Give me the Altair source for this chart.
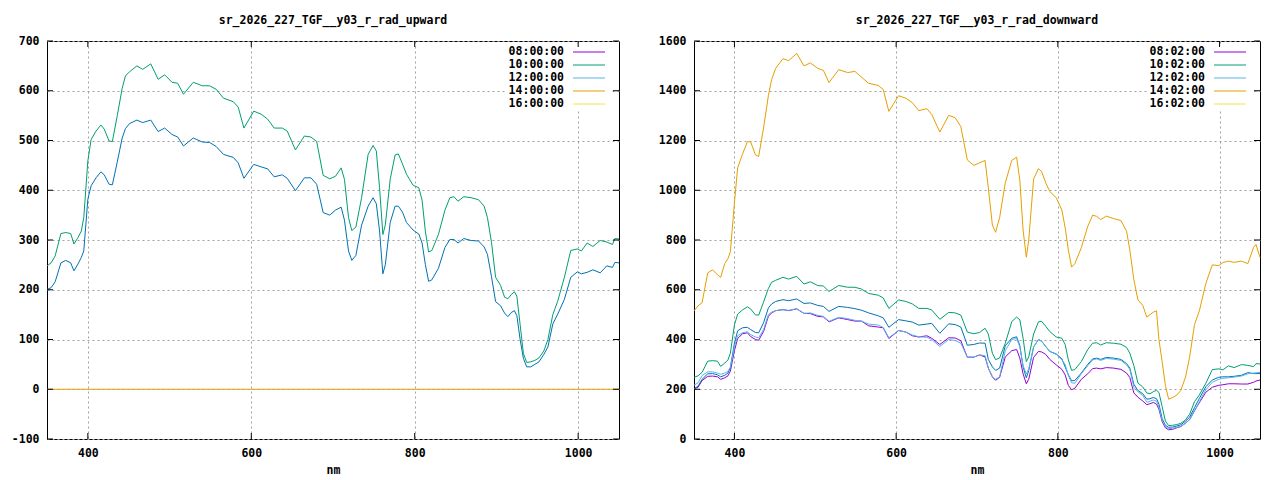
import altair as alt
import pandas as pd

WL = [
    350, 355, 360, 367, 373, 379, 383, 388, 392, 395,
    400, 404, 410, 416, 420, 426, 430, 436, 442, 446,
    451, 460, 467, 477, 486, 494, 503, 510, 517, 529,
    540, 549, 557, 566, 578, 584, 591, 603, 612, 620,
    628, 638, 644, 654, 665, 673, 680, 688, 696, 703,
    710, 714, 719, 723, 728, 735, 743, 749, 753, 757,
    761, 764, 770, 776, 780, 785, 790, 798, 805, 809,
    813, 817, 821, 829, 837, 843, 848, 853, 860, 869,
    878, 885, 889, 894, 899, 905, 910, 914, 918, 922,
    925, 929, 933, 937, 942, 947, 952, 958, 963, 969,
    975, 983, 991, 999, 1004, 1011, 1018, 1027, 1035, 1042,
    1045, 1050]

UP_10 = [
    248, 254, 268, 313, 315, 313, 292, 305, 318, 345,
    459, 502, 519, 531, 523, 499, 498, 550, 605, 630,
    638, 650, 643, 654, 623, 632, 617, 615, 593, 617,
    610, 610, 603, 585, 578, 567, 525, 559, 553, 543,
    525, 525, 519, 481, 509, 507, 498, 430, 423, 428,
    445, 422, 345, 319, 326, 385, 472, 490, 479, 405,
    311, 330, 422, 471, 473, 453, 432, 410, 405, 380,
    318, 276, 279, 311, 360, 385, 387, 378, 387, 385,
    381, 368, 345, 295, 225, 209, 185, 182, 190, 196,
    187, 130, 72, 54, 55, 58, 63, 77, 100, 150,
    177, 224, 279, 282, 278, 294, 287, 299, 296, 291,
    303, 302]

UP_12 = [
    201, 204, 216, 254, 259, 254, 238, 252, 265, 278,
    382, 409, 425, 437, 431, 412, 411, 457, 505, 524,
    534, 541, 536, 541, 518, 525, 512, 507, 489, 505,
    497, 496, 488, 472, 466, 455, 424, 452, 447, 443,
    427, 431, 424, 399, 425, 425, 412, 355, 350, 360,
    366, 340, 278, 259, 269, 330, 368, 385, 373, 318,
    232, 250, 335, 368, 368, 356, 335, 320, 312, 294,
    251, 217, 220, 243, 285, 301, 301, 294, 303, 299,
    298, 286, 271, 226, 176, 168, 153, 146, 154, 158,
    148, 100, 62, 45, 45, 50, 55, 70, 85, 131,
    151, 180, 225, 236, 232, 235, 240, 234, 248, 245,
    255, 254]

UP_16_WL = [350, 1050]
UP_16 = [0, 0]

DOWN_08 = [
    202, 208, 235, 252, 253, 250, 240, 246, 254, 273,
    355, 404, 423, 427, 412, 400, 397, 432, 493, 507,
    516, 520, 516, 523, 505, 504, 493, 491, 471, 487,
    480, 474, 474, 455, 450, 447, 404, 436, 430, 415,
    410, 415, 405, 380, 407, 406, 395, 329, 329, 338,
    330, 285, 250, 236, 248, 330, 355, 360, 325, 262,
    222, 240, 328, 352, 350, 340, 320, 298, 280, 258,
    215, 198, 204, 240, 262, 283, 285, 282, 287, 285,
    280, 265, 247, 185, 168, 153, 138, 142, 147, 140,
    120, 70, 45, 37, 39, 45, 50, 64, 78, 114,
    146, 188, 208, 216, 218, 222, 222, 221, 221, 228,
    233, 237]

DOWN_10 = list(UP_10)

DOWN_12 = [
    202, 212, 240, 262, 263, 258, 250, 256, 265, 287,
    385, 435, 447, 449, 440, 428, 427, 467, 527, 543,
    553, 560, 556, 563, 545, 547, 537, 533, 513, 533,
    529, 524, 518, 507, 495, 487, 449, 480, 475, 470,
    458, 462, 465, 425, 463, 460, 450, 377, 380, 386,
    385, 320, 290, 276, 285, 375, 405, 411, 375, 290,
    246, 275, 370, 400, 393, 372, 352, 342, 322, 290,
    258, 234, 235, 265, 300, 322, 325, 320, 328, 325,
    320, 303, 285, 220, 195, 182, 160, 162, 167, 162,
    140, 82, 55, 47, 48, 52, 57, 72, 88, 126,
    163, 210, 237, 248, 250, 250, 252, 256, 267, 263,
    263, 263]

DOWN_14 = [
    216, 226, 255, 270, 270, 265, 260, 265, 272, 289,
    370, 415, 427, 431, 420, 410, 407, 440, 500, 510,
    516, 520, 517, 524, 505, 507, 497, 493, 473, 489,
    484, 477, 474, 462, 458, 448, 407, 436, 430, 418,
    411, 409, 400, 372, 400, 396, 385, 329, 329, 338,
    335, 285, 250, 240, 250, 355, 400, 404, 370, 295,
    262, 282, 370, 400, 393, 372, 352, 340, 318, 300,
    255, 226, 224, 262, 295, 318, 322, 316, 324, 321,
    316, 298, 280, 208, 190, 175, 148, 152, 157, 152,
    128, 75, 50, 42, 43, 47, 51, 64, 78, 112,
    150, 198, 228, 240, 244, 246, 249, 253, 262, 265,
    266, 268]

DOWN_16 = [
    515, 535, 548, 668, 680, 660, 650, 705, 725, 753,
    950, 1090, 1145, 1195, 1195, 1142, 1136, 1250, 1380, 1445,
    1490, 1529, 1521, 1550, 1500, 1512, 1490, 1482, 1433, 1485,
    1473, 1478, 1455, 1430, 1421, 1405, 1317, 1380, 1370, 1352,
    1320, 1328, 1305, 1234, 1301, 1292, 1256, 1122, 1100, 1110,
    1120, 1010, 860, 831, 890, 1030, 1120, 1133, 1040, 840,
    731, 800, 1045, 1087, 1075, 1030, 995, 970, 920, 850,
    760, 691, 705, 769, 855, 900, 895, 882, 896, 886,
    878, 835, 760, 640, 560, 537, 490, 500, 510, 515,
    400, 310, 215, 160, 167, 176, 195, 250, 330, 460,
    515, 625, 700, 697, 709, 715, 710, 715, 705, 770,
    782, 730]

UP_KEYS = ["08:00:00", "10:00:00", "12:00:00", "14:00:00", "16:00:00"]
DOWN_KEYS = ["08:02:00", "10:02:00", "12:02:00", "14:02:00", "16:02:00"]
KEY_COLORS = ["#9400d3", "#009e73", "#56b4e9", "#e69f00", "#f0e442"]
LINE_COLORS = {"08": "#9400d3", "10": "#009e73", "12": "#0072b2",
               "14": "#56b4e9", "16": "#e69f00"}

X_TICKS = [400, 600, 800, 1000]
UP_Y_TICKS = [-100, 0, 100, 200, 300, 400, 500, 600, 700]
DOWN_Y_TICKS = [0, 200, 400, 600, 800, 1000, 1200, 1400, 1600]

FONT = "DejaVu Sans Mono"
FS = 11.5


def panel(title, series, ydom, yticks, keys, W, H):
    xs = alt.Scale(domain=[350, 1050], nice=False, zero=False)
    ys = alt.Scale(domain=ydom, nice=False, zero=False)
    xax = alt.Axis(values=X_TICKS, grid=True, ticks=False, domain=False,
                   labelPadding=8, title="nm", titlePadding=6,
                   labelExpr="'' + datum.value")
    yax = alt.Axis(values=yticks, grid=True, ticks=False, domain=False,
                   labelPadding=8, title=None, minExtent=38, maxExtent=38,
                   labelExpr="'' + datum.value")
    layers = []
    for wl, vals, key in series:
        df = pd.DataFrame({"wl": wl, "v": vals})
        layers.append(
            alt.Chart(df).mark_line(color=LINE_COLORS[key], strokeWidth=1)
            .encode(x=alt.X("wl:Q", scale=xs, axis=xax),
                    y=alt.Y("v:Q", scale=ys, axis=yax))
        )
    # opaque key box
    one = pd.DataFrame({"a": [0]})
    layers.append(
        alt.Chart(one).mark_rect(color="white").encode(
            x=alt.value(W - 113), x2=alt.value(W - 7),
            y=alt.value(4), y2=alt.value(70))
    )
    for i, lab in enumerate(keys):
        kdf = pd.DataFrame({"label": [lab]})
        layers.append(
            alt.Chart(kdf).mark_text(align="right", baseline="middle", font=FONT,
                                     fontWeight="bold", fontSize=FS, color="black")
            .encode(text="label:N", x=alt.value(W - 55), y=alt.value(11 + 13 * i))
        )
        layers.append(
            alt.Chart(kdf).mark_rule(color=KEY_COLORS[i], strokeWidth=1).encode(
                x=alt.value(W - 46), x2=alt.value(W - 14), y=alt.value(11 + 13 * i))
        )
    # inward ticks (gnuplot style, mirrored)
    xt = pd.DataFrame({"wl": X_TICKS})
    yt = pd.DataFrame({"v": yticks})
    layers.append(alt.Chart(xt).mark_rule(color="black").encode(
        x=alt.X("wl:Q", scale=xs, axis=xax), y=alt.value(H - 6), y2=alt.value(H)))
    layers.append(alt.Chart(xt).mark_rule(color="black").encode(
        x=alt.X("wl:Q", scale=xs, axis=xax), y=alt.value(0), y2=alt.value(6)))
    layers.append(alt.Chart(yt).mark_rule(color="black").encode(
        y=alt.Y("v:Q", scale=ys, axis=yax), x=alt.value(0), x2=alt.value(6)))
    layers.append(alt.Chart(yt).mark_rule(color="black").encode(
        y=alt.Y("v:Q", scale=ys, axis=yax), x=alt.value(W - 6), x2=alt.value(W)))
    return alt.layer(*layers).properties(
        width=W, height=H,
        title=alt.TitleParams(title, font=FONT, fontWeight="bold", fontSize=FS,
                              color="black", offset=9, anchor="middle"))


left = panel("sr_2026_227_TGF__y03_r_rad_upward",
             [(WL, UP_10, "10"), (WL, UP_12, "12"), (UP_16_WL, UP_16, "16")],
             [-100, 700], UP_Y_TICKS, UP_KEYS, 572, 398)
right = panel("sr_2026_227_TGF__y03_r_rad_downward",
              [(WL, DOWN_08, "08"), (WL, DOWN_10, "10"), (WL, DOWN_12, "12"),
               (WL, DOWN_14, "14"), (WL, DOWN_16, "16")],
              [0, 1600], DOWN_Y_TICKS, DOWN_KEYS, 566, 398)

chart = alt.hconcat(left, right, spacing=33).configure_view(
    stroke="black", strokeWidth=1
).configure_axis(
    labelFont=FONT, labelFontWeight="bold", labelFontSize=FS, labelColor="black",
    titleFont=FONT, titleFontWeight="bold", titleFontSize=FS, titleColor="black",
    gridColor="#a0a0a0", gridDash=[2, 3], gridWidth=1, gridOpacity=1
).properties(padding={"left": 0, "top": 6, "right": 0, "bottom": 0})

chart.save("out.html", embed_options={"renderer": "svg", "actions": False})
